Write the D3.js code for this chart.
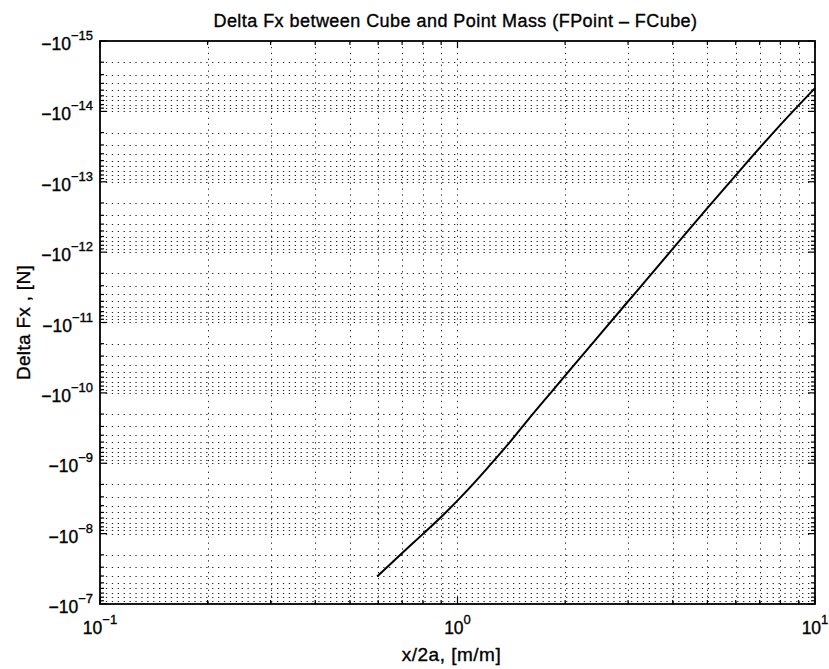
<!DOCTYPE html>
<html>
<head>
<meta charset="utf-8">
<script src="https://cdn.jsdelivr.net/npm/d3@7"></script>
<style>
  html, body { margin: 0; padding: 0; background: #fff; }
  svg { display: block; }
  text { font-family: "Liberation Sans", Arial, Helvetica, sans-serif; fill: #000; stroke: #000; stroke-width: 0.35px; }
</style>
</head>
<body>
<svg id="chart" width="829" height="669"></svg>
<script>
// ---- data ----
const title = "Delta Fx between Cube and Point Mass (FPoint \u2013 FCube)";
const xLabel = "x/2a, [m/m]";
const yLabel = "Delta Fx , [N]";
const xRatio = [0.596, 0.692, 0.794, 0.912, 1.047, 1.202, 1.380, 1.585, 1.820, 2.089, 2.512, 3.162, 3.981, 5.012, 6.310, 7.943, 10.0];
const deltaFx = [-4.07e-8, -2.00e-8, -1.05e-8, -5.43e-9, -2.66e-9, -1.23e-9, -5.50e-10, -2.32e-10, -1.005e-10, -4.38e-11, -1.45e-11, -3.66e-12, -9.23e-13, -2.33e-13, -6.03e-14, -1.62e-14, -4.68e-15];
const xTickExps = [-1, 0, 1];
const yTickExps = [-15, -14, -13, -12, -11, -10, -9, -8, -7];

// ---- layout ----
const m = { left: 100, top: 41, right: 815, bottom: 604 };
const svg = d3.select("#chart");

const x = d3.scaleLog().domain([0.1, 10]).range([m.left, m.right]);
const y = d3.scaleLog().domain([-1e-15, -1e-7]).range([m.top, m.bottom]);

// minor/major values
const xAll = [];
for (let e = -1; e < 1; e++) for (let k = 1; k <= 9; k++) xAll.push(k * Math.pow(10, e));
xAll.push(10);
const yAll = [];
for (let e = -15; e < -7; e++) for (let k = 1; k <= 9; k++) yAll.push(-k * Math.pow(10, e));
yAll.push(-1e-7);
const isMajor = v => Math.abs(Math.log10(Math.abs(v)) - Math.round(Math.log10(Math.abs(v)))) < 1e-9;

// ---- grid (dotted) ----
const grid = svg.append("g").attr("stroke", "#000").attr("stroke-width", 1)
  .attr("stroke-dasharray", "1.3,4.6").attr("stroke-opacity", 0.85);
grid.selectAll("line.gx").data(xAll.filter(v => v > 0.1 && v < 10)).join("line")
  .attr("x1", d => Math.round(x(d)) + 0.5).attr("x2", d => Math.round(x(d)) + 0.5)
  .attr("y1", m.top).attr("y2", m.bottom);
grid.selectAll("line.gy").data(yAll.filter(v => v < -1e-15 && v > -1e-7)).join("line")
  .attr("y1", d => Math.round(y(d)) + 0.5).attr("y2", d => Math.round(y(d)) + 0.5)
  .attr("x1", m.left).attr("x2", m.right);

// ---- ticks (inward, all four sides) ----
const ticks = svg.append("g").attr("stroke", "#000").attr("stroke-width", 1.2);
const majL = 7, minL = 4;
xAll.forEach(v => {
  const L = isMajor(v) ? majL : minL, px = x(v);
  ticks.append("line").attr("x1", px).attr("x2", px).attr("y1", m.bottom).attr("y2", m.bottom - L);
  ticks.append("line").attr("x1", px).attr("x2", px).attr("y1", m.top).attr("y2", m.top + L);
});
yAll.forEach(v => {
  const L = isMajor(v) ? majL : minL, py = y(v);
  ticks.append("line").attr("y1", py).attr("y2", py).attr("x1", m.left).attr("x2", m.left + L);
  ticks.append("line").attr("y1", py).attr("y2", py).attr("x1", m.right).attr("x2", m.right - L);
});

// ---- frame ----
svg.append("rect").attr("x", m.left).attr("y", m.top)
  .attr("width", m.right - m.left).attr("height", m.bottom - m.top)
  .attr("fill", "none").attr("stroke", "#000").attr("stroke-width", 1.8);

// ---- curve ----
const pts = xRatio.map((v, i) => [v, deltaFx[i]]);
svg.append("path").datum(pts)
  .attr("fill", "none").attr("stroke", "#000").attr("stroke-width", 2)
  .attr("stroke-linejoin", "round")
  .attr("d", d3.line().x(d => x(d[0])).y(d => y(d[1])).curve(d3.curveMonotoneX));

// ---- tick labels ----
const baseFs = 17.5, supFs = 13;
xTickExps.forEach(e => {
  const t = svg.append("text").attr("x", x(Math.pow(10, e))).attr("y", m.bottom + 30)
    .attr("text-anchor", "middle").style("font-size", baseFs + "px");
  t.append("tspan").text("10");
  t.append("tspan").attr("dy", -10).style("font-size", supFs + "px")
    .text(e < 0 ? "\u2212" + (-e) : String(e));
});
yTickExps.forEach(e => {
  const t = svg.append("text").attr("x", m.left - 7).attr("y", y(-Math.pow(10, e)) + 9)
    .attr("text-anchor", "end").style("font-size", baseFs + "px");
  t.append("tspan").text("\u221210");
  t.append("tspan").attr("dy", -10).style("font-size", supFs + "px")
    .text("\u2212" + (-e));
});

// ---- titles ----
svg.append("text").attr("x", (m.left + m.right) / 2 - 2).attr("y", 27)
  .attr("text-anchor", "middle").style("font-size", "18px").style("letter-spacing", "0.45px").text(title);
svg.append("text").attr("x", (m.left + m.right) / 2 - 6).attr("y", 661)
  .attr("text-anchor", "middle").style("font-size", "19px").style("letter-spacing", "0.5px").text(xLabel);
svg.append("text")
  .attr("transform", `translate(30,${(m.top + m.bottom) / 2}) rotate(-90)`)
  .attr("text-anchor", "middle").style("font-size", "19px").style("letter-spacing", "0.3px").text(yLabel);
</script>
</body>
</html>
